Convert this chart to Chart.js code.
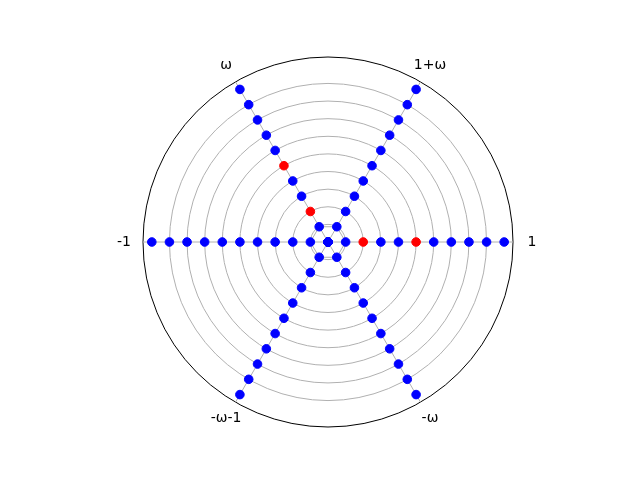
<!DOCTYPE html>
<html>
<head>
<meta charset="utf-8">
<script src="https://cdn.jsdelivr.net/npm/chart.js@4"></script>
<style>
  body { margin: 0; background: #fff; }
  #wrap { width: 640px; height: 480px; }
</style>
</head>
<body>
<div id="wrap"><canvas id="myChart" width="640" height="480"></canvas></div>
<script>
// rays, clockwise starting from the right (0 degrees)
var rays = ['1', '-ω', '-ω-1', '-1', 'ω', '1+ω'];
// distance of each dot from the centre
var radii = [0, 1, 2, 3, 4, 5, 6, 7, 8, 9, 10];
// dots drawn in red: [ray, radius]
var redDots = [['1', 2], ['1', 5], ['ω', 2], ['ω', 5]];
// grey grid circles and the outer edge
var gridRadii = [1, 2, 3, 4, 5, 6, 7, 8, 9];
var rMax = 10.5;
// the little hexagon joining the unit points
var hexagon = [1, 1, 1, 1, 1, 1];

function isRed(ray, r) {
    return redDots.some(function(d) { return d[0] === ray && d[1] === r; });
}

var datasets = radii.map(function(r) {
    var colors = rays.map(function(ray) { return isRed(ray, r) ? '#ff0000' : '#0000ff'; });
    return {
        data: rays.map(function() { return r; }),
        showLine: false,
        fill: false,
        backgroundColor: 'rgba(0,0,0,0)',
        borderColor: 'rgba(0,0,0,0)',
        pointRadius: 4.3,
        pointBorderWidth: 1,
        pointBackgroundColor: colors,
        pointBorderColor: colors,
        order: 0
    };
});

datasets.push({
    data: hexagon,
    showLine: true,
    fill: false,
    backgroundColor: 'rgba(0,0,0,0)',
    borderColor: '#b0b0b0',
    borderWidth: 1,
    pointRadius: 0,
    order: 1
});

var rayLabels = {
    id: 'rayLabels',
    afterDraw: function(chart) {
        var s = chart.scales.r;
        var ctx = chart.ctx;
        ctx.save();
        ctx.font = '14px "DejaVu Sans"';
        ctx.fillStyle = '#000';
        ctx.textAlign = 'center';
        ctx.textBaseline = 'middle';
        rays.forEach(function(label, i) {
            var p = s.getPointPosition(i, s.drawingArea + 19);
            ctx.fillText(label, p.x, p.y);
        });
        ctx.restore();
    }
};

var ctx = document.getElementById('myChart');
var myChart = new Chart(ctx, {
    type: 'radar',
    data: {
        labels: rays,
        datasets: datasets
    },
    options: {
        responsive: false,
        animation: false,
        events: [],
        layout: { padding: { left: 16, right: 0, top: 57, bottom: 53 } },
        plugins: {
            legend: { display: false },
            tooltip: { enabled: false }
        },
        scales: {
            r: {
                min: 0,
                max: rMax,
                startAngle: 90,
                afterBuildTicks: function(scale) {
                    scale.ticks = [0].concat(gridRadii, [rMax]).map(function(v) { return { value: v }; });
                },
                ticks: { display: false },
                pointLabels: { display: false },
                grid: {
                    circular: true,
                    lineWidth: 1,
                    color: function(c) {
                        return c.tick && c.tick.value === rMax ? '#000000' : '#b0b0b0';
                    }
                },
                angleLines: { color: '#b0b0b0', lineWidth: 1 }
            }
        }
    },
    plugins: [rayLabels]
});
</script>
</body>
</html>
